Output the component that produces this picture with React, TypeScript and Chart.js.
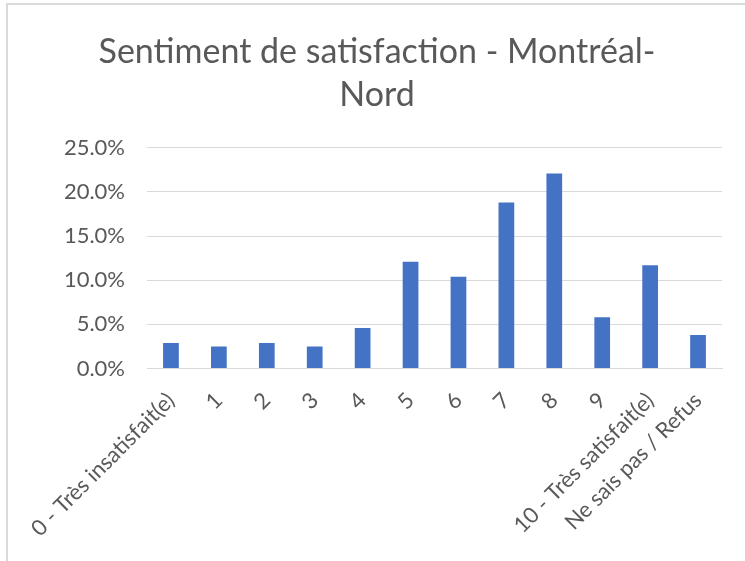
import React, { useEffect, useRef } from "react";
import { Chart, registerables } from "chart.js";

Chart.register(...registerables);

const titleLines = ["Sentiment de satisfaction - Montréal-", "Nord"];
const categories = [
  "0 - Très insatisfait(e)",
  "1",
  "2",
  "3",
  "4",
  "5",
  "6",
  "7",
  "8",
  "9",
  "10 - Très satisfait(e)",
  "Ne sais pas / Refus",
];
const values = [2.9, 2.5, 2.9, 2.5, 4.6, 12.1, 10.4, 18.8, 22.1, 5.8, 11.7, 3.8];
const yMin = 0;
const yMax = 25;
const yStep = 5;

const FONT = "Lato, 'Open Sans', sans-serif";
const TEXT = "#595959";

export default function App() {
  const ref = useRef<HTMLCanvasElement | null>(null);

  useEffect(() => {
    if (!ref.current) return;
    const chart = new Chart(ref.current, {
      type: "bar",
      data: {
        labels: categories,
        datasets: [
          {
            data: values,
            backgroundColor: "#4472C4",
            borderWidth: 0,
            categoryPercentage: 1,
            barPercentage: 0.328,
          },
        ],
      },
      options: {
        responsive: false,
        animation: false,
        layout: { padding: { left: 32, right: 23, top: 0, bottom: 0 } },
        plugins: {
          legend: { display: false },
          tooltip: { enabled: false },
          title: {
            display: true,
            text: titleLines,
            color: TEXT,
            font: { family: FONT, size: 34, weight: "normal", lineHeight: 1.27 },
            padding: { top: 30, bottom: 31.5 },
          },
        },
        scales: {
          x: {
            grid: { display: false, drawTicks: false },
            border: { display: true, color: "#d9d9d9", width: 1 },
            ticks: {
              color: TEXT,
              font: { family: FONT, size: 22 },
              minRotation: 45,
              maxRotation: 45,
              autoSkip: false,
              padding: 19,
            },
            afterFit: (s: any) => {
              s.height = 192.5;
            },
          },
          y: {
            min: yMin,
            max: yMax,
            grid: { color: "#d9d9d9", lineWidth: 1, drawTicks: false },
            border: { display: false },
            ticks: {
              stepSize: yStep,
              color: TEXT,
              font: { family: FONT, size: 22 },
              padding: 22,
              callback: (v: any) => Number(v).toFixed(1) + "%",
            },
            afterFit: (s: any) => {
              s.width = 115;
            },
          },
        },
      },
    });
    return () => chart.destroy();
  }, []);

  return (
    <div style={{ position: "absolute", left: 0, top: 0, width: 745, height: 561, background: "#fff", overflow: "hidden" }}>
      <canvas ref={ref} width={745} height={561} style={{ position: "absolute", left: 0, top: 0 }} />
      <div
        style={{
          position: "absolute",
          left: 6,
          top: 3,
          width: 760,
          height: 580,
          borderLeft: "2px solid #d9d9d9",
          borderTop: "2px solid #d9d9d9",
          pointerEvents: "none",
        }}
      />
    </div>
  );
}
